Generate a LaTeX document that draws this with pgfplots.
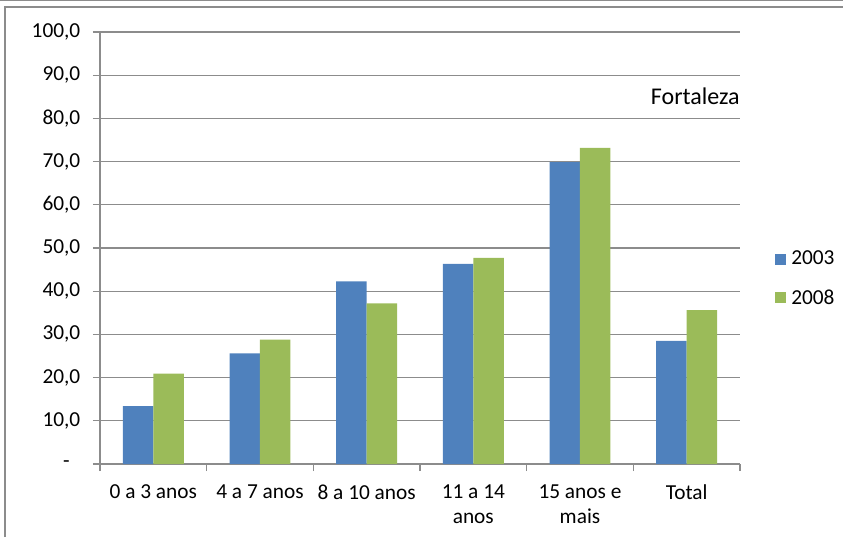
\documentclass[border=0pt]{standalone}
\usepackage{pgfplots}
\pgfplotsset{compat=1.18}
\usepackage{fontspec}
\setmainfont{Carlito}
\definecolor{c03}{HTML}{4F81BD}
\definecolor{c08}{HTML}{9BBB59}
\definecolor{gridc}{HTML}{8C8C8C}
\begin{document}
\begin{tikzpicture}
\useasboundingbox (0,0) rectangle (632.25pt,402.75pt);
\draw[gridc, line width=0.8pt] (0,402.3pt) -- (632.25pt,402.3pt);
\draw[gridc, line width=0.8pt] (3.75pt,0) -- (3.75pt,397.5pt) -- (632.25pt,397.5pt);
\begin{axis}[
  at={(75pt,54.75pt)}, anchor=south west,
  scale only axis, width=480pt, height=324pt,
  ymin=0, ymax=100, xmin=-0.5, xmax=5.5,
  ybar=0pt, bar width=22.86pt,
  axis x line*=bottom, axis y line*=left,
  axis line style={gridc, line width=0.8pt},
  ymajorgrids, grid style={gridc, line width=0.8pt},
  tick align=outside,
  ytick={0,10,...,100},
  yticklabels={{-\kern8pt},{10,0},{20,0},{30,0},{40,0},{50,0},{60,0},{70,0},{80,0},{90,0},{100,0}},
  xtick={0,1,2,3,4,5},
  xticklabels={{0 a 3 anos},{4 a 7 anos},{8 a 10 anos},{11 a 14\\anos},{15 anos e\\mais},{Total}},
  minor xtick={-0.5,0.5,...,5.5},
  major tick length=5.25pt, minor tick length=5.25pt,
  x tick style={draw=none},
  minor x tick style={draw=gridc, line width=0.8pt},
  y tick style={draw=gridc, line width=0.8pt},
  tick label style={font=\fontsize{16}{18.5}\selectfont},
  xticklabel style={align=center, anchor=north, yshift=-7pt},
  yticklabel style={xshift=-6pt},
  legend style={at={(1,0.429)}, anchor=west, xshift=26pt, draw=none, fill=none,
    inner sep=0pt, font=\fontsize{16}{18.5}\selectfont, row sep=13pt,
    legend cell align=left, /tikz/every odd column/.append style={column sep=2pt}},
]
\addplot[fill=c03, draw=none, legend image code/.code={\fill[c03] (0pt,-4.1pt) rectangle (8.25pt,4.1pt);}]
  coordinates {(0,13.4) (1,25.6) (2,42.3) (3,46.3) (4,69.9) (5,28.5)};
\addplot[fill=c08, draw=none, legend image code/.code={\fill[c08] (0pt,-4.1pt) rectangle (8.25pt,4.1pt);}]
  coordinates {(0,20.9) (1,28.8) (2,37.2) (3,47.7) (4,73.2) (5,35.6)};
\legend{2003,2008}
\node[anchor=east, inner sep=0pt, font=\fontsize{18}{20}\selectfont] at (axis cs:5.5,85.2) {Fortaleza};
\end{axis}
\end{tikzpicture}
\end{document}
